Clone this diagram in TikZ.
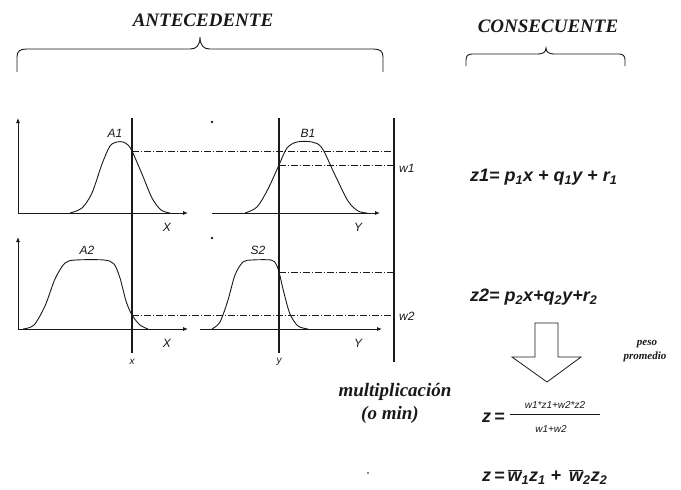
\documentclass[tikz,border=0pt]{standalone}
\usepackage{fontspec}
\setmainfont{Liberation Serif}
\setsansfont{Liberation Sans}
\usepackage{tikz}
\usetikzlibrary{arrows.meta}
\definecolor{tinta}{RGB}{25,25,25}

\tikzset{
  eje/.style={draw=tinta,line width=0.8pt,-{Latex[length=5pt,width=4pt]}},
  guia/.style={draw=tinta,line width=1.3pt},
  curva/.style={draw=tinta,line width=0.9pt},
  nivel/.style={draw=tinta,line width=0.6pt,dash pattern=on 7pt off 2pt on 1pt off 2pt},
  llave/.style={draw=tinta,line width=0.9pt},
  etiq/.style={text=tinta,font=\sffamily\itshape\fontsize{12}{12}\selectfont,inner sep=0pt},
  titulo/.style={text=tinta,font=\bfseries\itshape\fontsize{19}{19}\selectfont,inner sep=0pt},
  nota/.style={text=tinta,font=\bfseries\itshape\fontsize{19}{19}\selectfont,inner sep=0pt},
  ecuac/.style={text=tinta,font=\sffamily\bfseries\itshape\fontsize{18}{18}\selectfont,inner sep=0pt,anchor=west},
}

\begin{document}
\begin{tikzpicture}[x=1pt,y=-1pt]
\useasboundingbox (0,0) rectangle (681,490);

% titulos y llaves
\node[titulo] (antecedente) at (203,20) {ANTECEDENTE};
\node[titulo] (consecuente) at (548,26) {CONSECUENTE};
\draw[llave] (17,72) -- (17,57) .. controls (17,51) and (20,49) .. (27,49) -- (190,49)
  .. controls (196,49) and (200,46) .. (200,37) .. controls (200,46) and (204,49) .. (210,49)
  -- (373,49) .. controls (380,49) and (383,51) .. (383,57) -- (383,72);
\draw[llave] (466,66) -- (466,60) .. controls (466,56) and (468,54) .. (472,54) -- (538,54)
  .. controls (543,54) and (546,52) .. (546,48) .. controls (546,52) and (549,54) .. (554,54)
  -- (619,54) .. controls (623,54) and (625,56) .. (625,60) -- (625,66);

% ejes
\coordinate (oA1) at (18,213);
\coordinate (oA2) at (18,329);
\draw[eje] (oA1) -- (18,118);
\draw[eje] (oA1) -- (188,213);
\draw[eje] (212,213) -- (380,213);
\draw[eje] (oA2) -- (18,237);
\draw[eje] (oA2) -- (188,329);
\draw[eje] (200,329) -- (382,329);
\fill[tinta] (212,122) circle (1.3pt);
\fill[tinta] (212,238) circle (1.3pt);

% funciones de pertenencia
\draw[curva] plot[smooth] coordinates {(70,213) (82,208) (92,193) (102,164) (110,146) (117,142)
  (123,142) (128,145) (132,151) (142,174) (152,198) (161,210) (170,213)};
\draw[curva] plot[smooth] coordinates {(245,213) (257,207) (268,189) (279,165) (287,148) (297,142)
  (312,142) (322,148) (335,175) (348,201) (358,211) (367,213)};
\draw[curva] plot[smooth] coordinates {(23,329) (34,325) (45,306) (55,279) (65,263) (76,260)
  (104,260) (114,264) (120,278) (126,301) (132,315) (140,325) (148,329)};
\draw[curva] plot[smooth] coordinates {(212,329) (220,322) (228,300) (235,275) (243,262) (252,260)
  (271,260) (276,264) (279,272) (284,293) (290,314) (298,326) (308,329)};

% entradas
\coordinate (xa) at (132,118);
\coordinate (xb) at (132,353);
\coordinate (ya) at (279,118);
\coordinate (yb) at (279,353);
\coordinate (za) at (394,118);
\coordinate (zb) at (394,362);
\draw[guia] (xa) -- (xb);
\draw[guia] (ya) -- (yb);
\draw[guia] (za) -- (zb);

% niveles de activacion
\coordinate (n1) at (132,151);
\coordinate (n1r) at (394,151);
\coordinate (w1a) at (279,165);
\coordinate (w1b) at (394,165);
\coordinate (n2) at (279,272);
\coordinate (n2r) at (394,272);
\coordinate (w2a) at (132,315);
\coordinate (w2b) at (394,315);
\draw[nivel] (n1) -- (n1r);
\draw[nivel] (w1a) -- (w1b);
\draw[nivel] (n2) -- (n2r);
\draw[nivel] (w2a) -- (w2b);

% etiquetas
\node[etiq] (labA1) at (115,133) {A1};
\node[etiq] (labB1) at (308,133) {B1};
\node[etiq] (labX1) at (167,227) {X};
\node[etiq] (labY1) at (358,227) {Y};
\node[etiq,anchor=west] (labw1) at (399,168) {w1};
\node[etiq] (labA2) at (87,250) {A2};
\node[etiq] (labB2) at (258,250) {S2};
\node[etiq] (labX2) at (167,343) {X};
\node[etiq] (labY2) at (358,343) {Y};
\node[etiq,anchor=west] (labw2) at (399,316) {w2};
\node[etiq,font=\sffamily\itshape\fontsize{10}{10}\selectfont] (labx) at (132,362) {x};
\node[etiq,font=\sffamily\itshape\fontsize{10}{10}\selectfont] (laby) at (279,362) {y};

% consecuentes
\node[ecuac] (z1) at (470,177) {z1= p\textsubscript{1}x + q\textsubscript{1}y + r\textsubscript{1}};
\node[ecuac] (z2) at (470,297) {z2= p\textsubscript{2}x+q\textsubscript{2}y+r\textsubscript{2}};
\draw[draw=tinta,line width=0.8pt] (535,323) -- (558,323) -- (558,357) -- (581,357) -- (547,382)
  -- (512,357) -- (535,357) -- cycle;
\node[nota,font=\bfseries\itshape\fontsize{11}{11}\selectfont] (peso) at (647,344) {peso};
\node[nota,font=\bfseries\itshape\fontsize{11}{11}\selectfont] (promedio) at (645,357) {promedio};
\node[nota] (mult) at (395,392) {multiplicación};
\node[nota] (omin) at (390,415) {(o min)};

% salida
\node[ecuac] (zpond) at (482,418) {z\,=};
\coordinate (barL) at (510,414);
\coordinate (barR) at (600,414);
\draw[draw=tinta,line width=0.7pt] (barL) -- (barR);
\node[etiq,font=\sffamily\itshape\fontsize{10}{10}\selectfont] (num) at (555,405) {w1*z1+w2*z2};
\node[etiq,font=\sffamily\itshape\fontsize{10}{10}\selectfont] (den) at (551,429) {w1+w2};
\node[ecuac] (zfinal) at (482,477) {z\,=\,$\overline{\hbox{w}}$\textsubscript{1}z\textsubscript{1} + \,$\overline{\hbox{w}}$\textsubscript{2}z\textsubscript{2}};
\fill[tinta] (368,473) circle (0.8pt);
\end{tikzpicture}
\end{document}
